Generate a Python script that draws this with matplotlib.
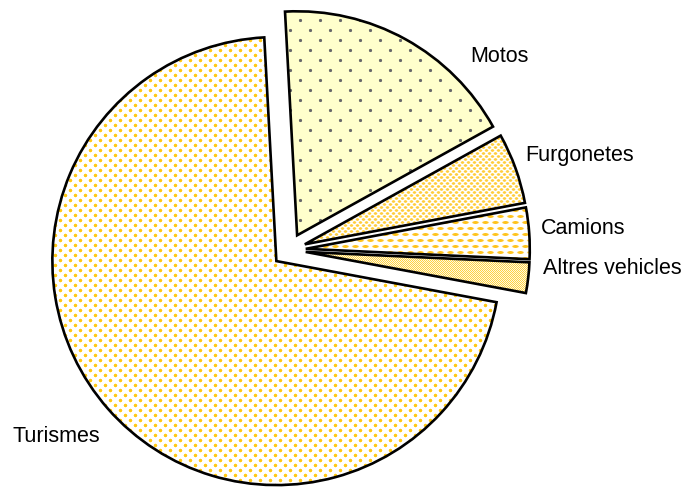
import numpy as np
import matplotlib
matplotlib.use("Agg")
import matplotlib.pyplot as plt

# ---- data ----
categories = ["Motos", "Furgonetes", "Camions", "Altres vehicles", "Turismes"]
values = [17.8, 5.1, 3.7, 2.2, 71.2]

# ---- figure geometry (pixels) ----
W, H = 685, 487
DPI = 100
CX, CY, R = 289, 250, 224  # pie centre & radius in pixels

plt.rcParams['font.family'] = ['Liberation Sans', 'DejaVu Sans']

fig = plt.figure(figsize=(W / DPI, H / DPI), dpi=DPI)
ax = fig.add_axes([0, 0, 1, 1])

xlim = (-CX / R, (W - CX) / R)
ylim = ((CY - H) / R, CY / R)

wedges, _ = ax.pie(values, startangle=93.1, counterclock=False, radius=1,
                   explode=[0.075] * len(values),
                   wedgeprops=dict(facecolor='none', edgecolor='black',
                                   linewidth=1.9, joinstyle='miter'))
for w in wedges:
    w.set_zorder(3)

ax.set_xlim(*xlim)
ax.set_ylim(*ylim)
ax.set_aspect('equal')
ax.axis('off')

# ---- texture patterns ----
yy, xx = np.mgrid[0:H, 0:W].astype(float)


def dots(bg, fg, px, py, rx, ry, soft=0.7):
    bg = np.array(bg, float) / 255
    fg = np.array(fg, float) / 255
    j = np.round(yy / py)
    off = (j % 2) * px / 2
    dx = np.mod(xx - off + px / 2, px) - px / 2
    dy = yy - j * py
    d = np.sqrt((dx / rx) ** 2 + (dy / ry) ** 2)
    a = np.clip((1.0 + soft - d) / soft, 0, 1)[..., None]
    return bg * (1 - a) + fg * a


def checker(c1, c2):
    c1 = np.array(c1, float) / 255
    c2 = np.array(c2, float) / 255
    m = ((xx + yy) % 2 == 0)[..., None]
    return np.where(m, c1, c2)


textures = {
    "Motos": dots((255, 255, 204), (105, 105, 105), 20, 10, 1.2, 1.2),
    "Furgonetes": dots((255, 255, 255), (255, 205, 60), 6, 3, 1.3, 0.9),
    "Camions": dots((255, 255, 255), (255, 195, 30), 10, 6, 2.4, 1.0),
    "Altres vehicles": checker((255, 210, 70), (255, 250, 225)),
    "Turismes": dots((255, 255, 255), (255, 200, 20), 10, 5, 1.3, 1.3),
}

for name, w in zip(categories, wedges):
    im = ax.imshow(textures[name], extent=(xlim[0], xlim[1], ylim[0], ylim[1]),
                   origin='upper', interpolation='nearest', zorder=2)
    im.set_clip_path(w)

ax.set_xlim(*xlim)
ax.set_ylim(*ylim)

# ---- labels ----
label_px = {
    "Motos": (499, 57),
    "Furgonetes": (580, 155),
    "Camions": (583, 228),
    "Altres vehicles": (612, 268),
    "Turismes": (56, 436),
}
for name in categories:
    px_, py_ = label_px[name]
    ax.text((px_ - CX) / R, (CY - py_) / R, name, ha='center', va='center',
            fontsize=15.5, color='black', zorder=5)

fig.savefig("out.png", dpi=DPI)
